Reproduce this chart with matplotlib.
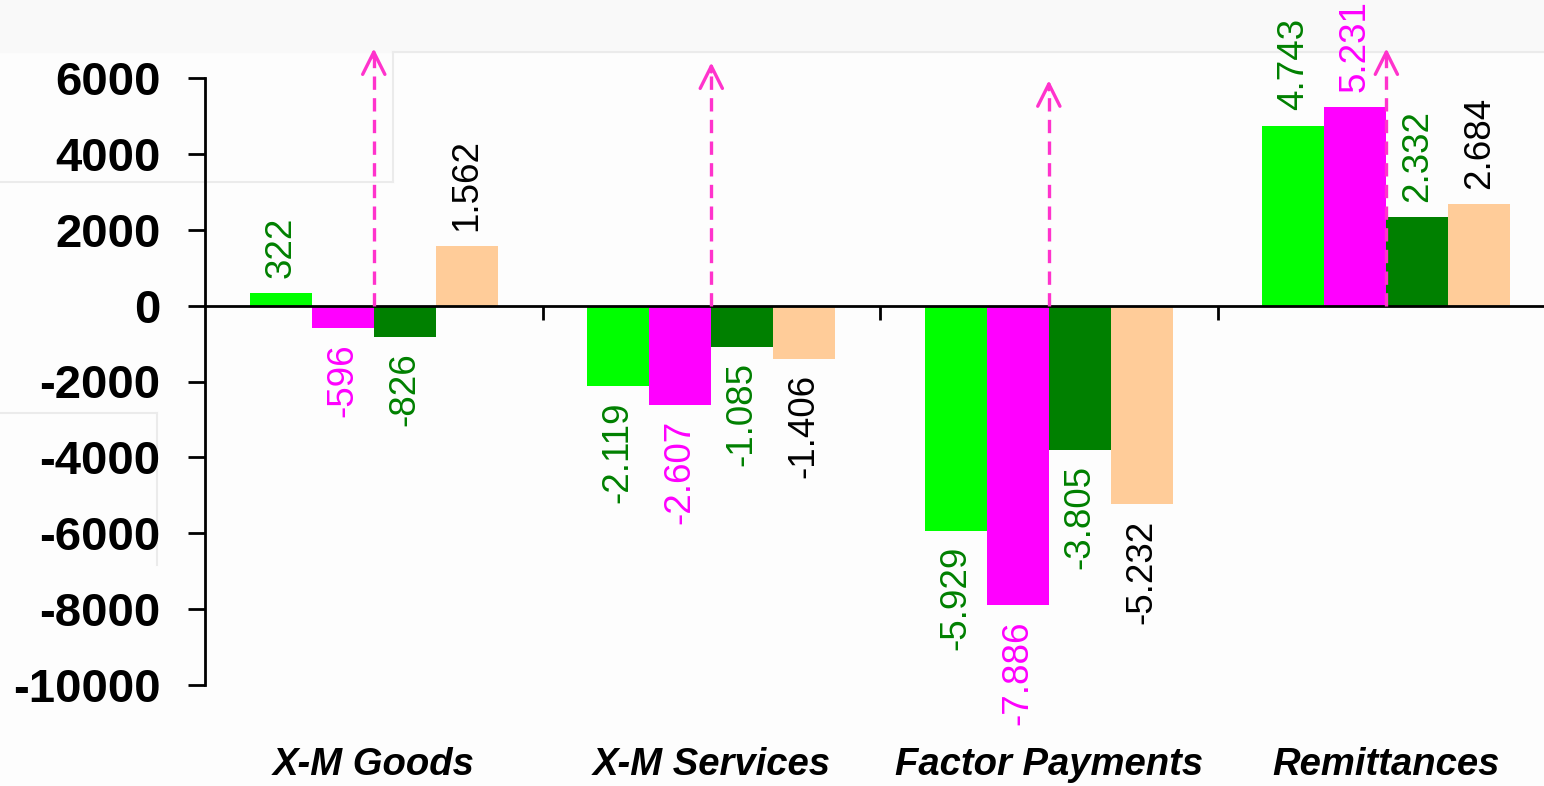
import matplotlib.pyplot as plt
import numpy as np
from matplotlib.lines import Line2D

plt.rcParams['font.family'] = ['Liberation Sans', 'DejaVu Sans']
plt.rcParams['axes.unicode_minus'] = False

categories = ["X-M Goods", "X-M Services", "Factor Payments", "Remittances"]
series_1 = [322, -2119, -5929, 4743]
series_2 = [-596, -2607, -7886, 5231]
series_3 = [-826, -1085, -3805, 2332]
series_4 = [1562, -1406, -5232, 2684]
labels_1 = ["322", "-2.119", "-5.929", "4.743"]
labels_2 = ["-596", "-2.607", "-7.886", "5.231"]
labels_3 = ["-826", "-1.085", "-3.805", "2.332"]
labels_4 = ["1.562", "-1.406", "-5.232", "2.684"]
arrow_tops = [6780, 6410, 5940, 6780]

bar_colors = ["#00ff00", "#ff00ff", "#008000", "#ffcc99"]
label_colors = ["#008000", "#ff00ff", "#008000", "#000000"]
arrow_color = "#ff33cc"

fig = plt.figure(figsize=(15.44, 7.86), dpi=100, facecolor="#fdfdfd")

# faint screenshot artefacts in the background
bg = "#ebebeb"
fig.add_artist(plt.Rectangle((0, 1 - 52 / 786), 1, 52 / 786, transform=fig.transFigure,
                             color="#f9f9f9", zorder=-5))
for xs, ys in [((393, 1544), (52, 52)), ((393, 393), (52, 182)), ((0, 393), (182, 182)),
               ((0, 157), (413, 413)), ((157, 157), (413, 565))]:
    fig.add_artist(Line2D([x / 1544 for x in xs], [1 - y / 786 for y in ys],
                          transform=fig.transFigure, color=bg, lw=1.5, zorder=-4))

ax = fig.add_axes([205 / 1544, 1 - 685 / 786, 1 - 205 / 1544, (685 - 78) / 786])
ax.set_facecolor("none")

x = np.arange(len(categories))
w = 0.1837
all_vals = [series_1, series_2, series_3, series_4]
all_labels = [labels_1, labels_2, labels_3, labels_4]
for k, (vals, labs) in enumerate(zip(all_vals, all_labels)):
    pos = x + (k - 1.5) * w
    ax.bar(pos, vals, width=w, color=bar_colors[k], zorder=2)
    for px, v, lab in zip(pos, vals, labs):
        ax.annotate(lab, xy=(px, v), xytext=(0, 11 if v > 0 else -11),
                    textcoords="offset points", rotation=90, ha="center",
                    va="bottom" if v > 0 else "top", fontsize=26.5,
                    color=label_colors[k], annotation_clip=False)

# dashed arrows
for xi, top in zip(x, arrow_tops):
    ax.vlines(xi, 0, top - 150, colors=arrow_color, linestyles=(0, (4, 2.5)),
              lw=2.4, zorder=4, clip_on=False)
    ax.annotate("", xy=(xi, top), xytext=(xi, top - 250),
                arrowprops=dict(arrowstyle="->", color=arrow_color, lw=2.4,
                                mutation_scale=40, shrinkA=0, shrinkB=0),
                annotation_clip=False, zorder=4)

ax.set_xlim(-0.5, 3.467)
ax.set_ylim(-10000, 6000)
ax.set_yticks(np.arange(-10000, 6001, 2000))
ax.set_yticklabels([str(v) for v in np.arange(-10000, 6001, 2000)],
                   fontsize=34, fontweight="bold")
ax.set_xticks([0.5, 1.5, 2.5])
ax.set_xticklabels([])

for s in ["top", "right"]:
    ax.spines[s].set_visible(False)
ax.spines["bottom"].set_position(("data", 0))
ax.spines["bottom"].set_linewidth(2)
ax.spines["left"].set_linewidth(2)
ax.spines["bottom"].set_zorder(3)
ax.tick_params(axis="y", length=12, width=2, pad=20)
ax.tick_params(axis="x", length=10, width=2)

for xi, name in zip(x, categories):
    ax.text(xi, -0.132, name, transform=ax.get_xaxis_transform(), ha="center",
            va="center", fontsize=27.5, fontweight="bold", fontstyle="italic")

fig.savefig("out.png", dpi=100, facecolor=fig.get_facecolor())
